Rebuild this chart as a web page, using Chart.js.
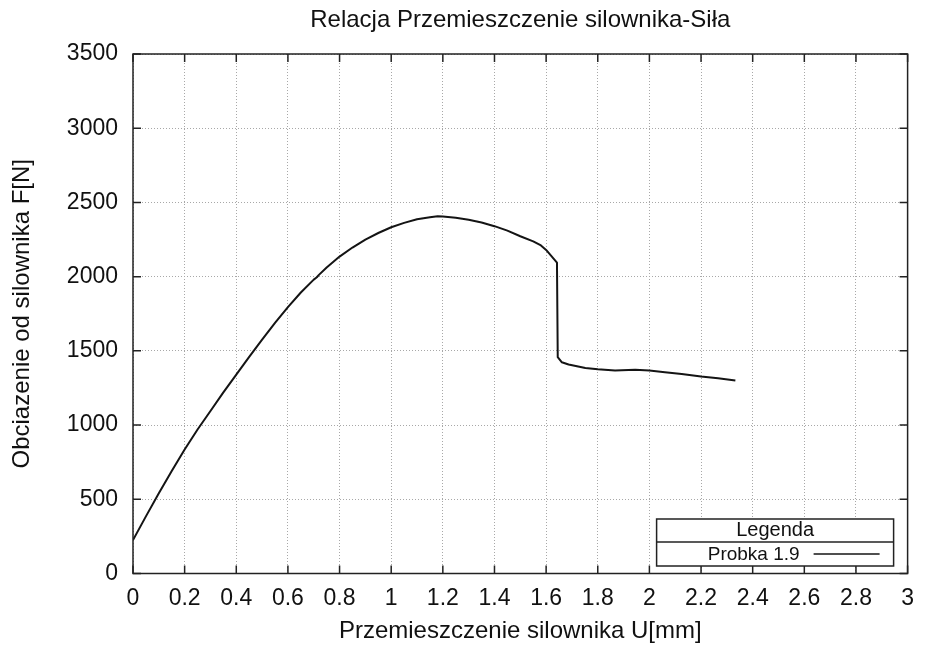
<!DOCTYPE html>
<html>
<head>
<meta charset="utf-8">
<title>Relacja Przemieszczenie silownika-Siła</title>
<script src="https://cdn.jsdelivr.net/npm/chart.js@4.4.1/dist/chart.umd.min.js"></script>
<style>
    html, body { margin: 0; padding: 0; background: #fff; }
    canvas { display: block; }
</style>
</head>
<body>
<canvas id="chart" width="925" height="653"></canvas>
<script>
// ================== Data ==================
const chartTitle = 'Relacja Przemieszczenie silownika-Siła';
const xTitle = 'Przemieszczenie silownika U[mm]';
const yTitle = 'Obciazenie od silownika F[N]';
const legendTitle = 'Legenda';
const seriesLabel = 'Probka 1.9';

// przemieszczenie [mm]
const displacement = [
    0, 0.05, 0.1, 0.15, 0.2, 0.25, 0.3, 0.35, 0.4, 0.45,
    0.5, 0.55, 0.6, 0.65, 0.7, 0.712, 0.72, 0.75, 0.8, 0.85,
    0.9, 0.95, 1.0, 1.05, 1.1, 1.15, 1.18, 1.2, 1.25, 1.3,
    1.35, 1.4, 1.45, 1.5, 1.55, 1.58, 1.6, 1.642, 1.645, 1.661,
    1.687, 1.752, 1.8, 1.867, 1.945, 2.0, 2.06, 2.125, 2.2, 2.266,
    2.333
];
// sila [N]
const force = [
    225, 385, 540, 690, 835, 970, 1095, 1220, 1340, 1460,
    1575, 1688, 1795, 1893, 1980, 1996, 2012, 2062, 2135, 2196,
    2250, 2294, 2333, 2362, 2387, 2400, 2407, 2405, 2397, 2383,
    2365, 2340, 2310, 2272, 2238, 2210, 2180, 2095, 1457, 1423,
    1408, 1385, 1376, 1367, 1372, 1367, 1356, 1344, 1327, 1315,
    1300
];

const FONT = "'Liberation Sans', Arial, sans-serif";
const TEXT = '#111';

// ================== Gnuplot-like frame, ticks, legend ==================
const gnuplotFrame = {
    id: 'gnuplotFrame',
    afterDatasetsDraw(chart) {
        const { ctx, chartArea: a, scales } = chart;
        const tick = 8;
        ctx.save();
        ctx.strokeStyle = '#222';
        ctx.lineWidth = 1.5;
        ctx.setLineDash([]);
        ctx.strokeRect(a.left, a.top, a.right - a.left, a.bottom - a.top);

        // inward ticks on all four sides
        ctx.beginPath();
        scales.x.ticks.forEach(t => {
            const px = scales.x.getPixelForValue(t.value);
            ctx.moveTo(px, a.bottom); ctx.lineTo(px, a.bottom - tick);
            ctx.moveTo(px, a.top); ctx.lineTo(px, a.top + tick);
        });
        scales.y.ticks.forEach(t => {
            const py = scales.y.getPixelForValue(t.value);
            ctx.moveTo(a.left, py); ctx.lineTo(a.left + tick, py);
            ctx.moveTo(a.right, py); ctx.lineTo(a.right - tick, py);
        });
        ctx.stroke();

        // legend box
        const bw = 237, bh = 47, split = 23;
        const bx = a.right - 14 - bw;
        const by = a.bottom - 7.5 - bh;
        ctx.fillStyle = '#fff';
        ctx.fillRect(bx, by, bw, bh);
        ctx.strokeRect(bx, by, bw, bh);
        ctx.beginPath();
        ctx.moveTo(bx, by + split);
        ctx.lineTo(bx + bw, by + split);
        ctx.stroke();

        ctx.fillStyle = TEXT;
        ctx.textBaseline = 'middle';
        ctx.font = '20px ' + FONT;
        ctx.textAlign = 'center';
        ctx.fillText(legendTitle, bx + bw / 2, by + 11.5);

        const ds = chart.data.datasets[0];
        ctx.font = '19px ' + FONT;
        ctx.textAlign = 'right';
        ctx.fillText(ds.label, bx + bw - 94, by + 35.5);
        ctx.strokeStyle = ds.borderColor;
        ctx.lineWidth = 1.5;
        ctx.beginPath();
        ctx.moveTo(bx + bw - 80, by + 35);
        ctx.lineTo(bx + bw - 14, by + 35);
        ctx.stroke();
        ctx.restore();
    }
};

// ================== Chart ==================
const points = displacement.map((x, i) => ({ x: x, y: force[i] }));

new Chart(document.getElementById('chart'), {
    type: 'line',
    data: {
        datasets: [{
            label: seriesLabel,
            data: points,
            borderColor: '#141414',
            borderWidth: 2,
            borderJoinStyle: 'round',
            pointRadius: 0,
            tension: 0,
            fill: false
        }]
    },
    options: {
        responsive: false,
        animation: false,
        layout: { padding: { left: 0, right: 15, top: 0, bottom: 0 } },
        plugins: {
            legend: { display: false },
            tooltip: { enabled: false },
            title: {
                display: true,
                fullSize: false, // centre over the plot area like gnuplot
                text: chartTitle,
                color: TEXT,
                font: { family: FONT, size: 24, weight: 'normal' },
                padding: { top: 5.6, bottom: 19.6 }
            }
        },
        scales: {
            x: {
                type: 'linear',
                min: 0,
                max: 3,
                afterFit: s => { s.height = 79.5; },
                ticks: {
                    stepSize: 0.2,
                    padding: 11,
                    color: TEXT,
                    font: { family: FONT, size: 23 },
                    callback: v => String(+v.toFixed(1))
                },
                grid: { color: '#a8a8a8', lineWidth: 1, drawTicks: false },
                border: { display: false, dash: [1, 2] },
                title: {
                    display: true,
                    text: xTitle,
                    color: TEXT,
                    font: { family: FONT, size: 24 },
                    padding: { top: 0, bottom: 7 }
                }
            },
            y: {
                type: 'linear',
                min: 0,
                max: 3500,
                afterFit: s => { s.width = 133; },
                ticks: {
                    stepSize: 500,
                    padding: 15,
                    color: TEXT,
                    font: { family: FONT, size: 23 },
                    callback: v => String(v)
                },
                grid: { color: '#a8a8a8', lineWidth: 1, drawTicks: false },
                border: { display: false, dash: [1, 2] },
                title: {
                    display: true,
                    text: yTitle,
                    color: TEXT,
                    font: { family: FONT, size: 24 },
                    padding: { top: 7.6, bottom: 0 }
                }
            }
        }
    },
    plugins: [gnuplotFrame]
});
</script>
</body>
</html>
